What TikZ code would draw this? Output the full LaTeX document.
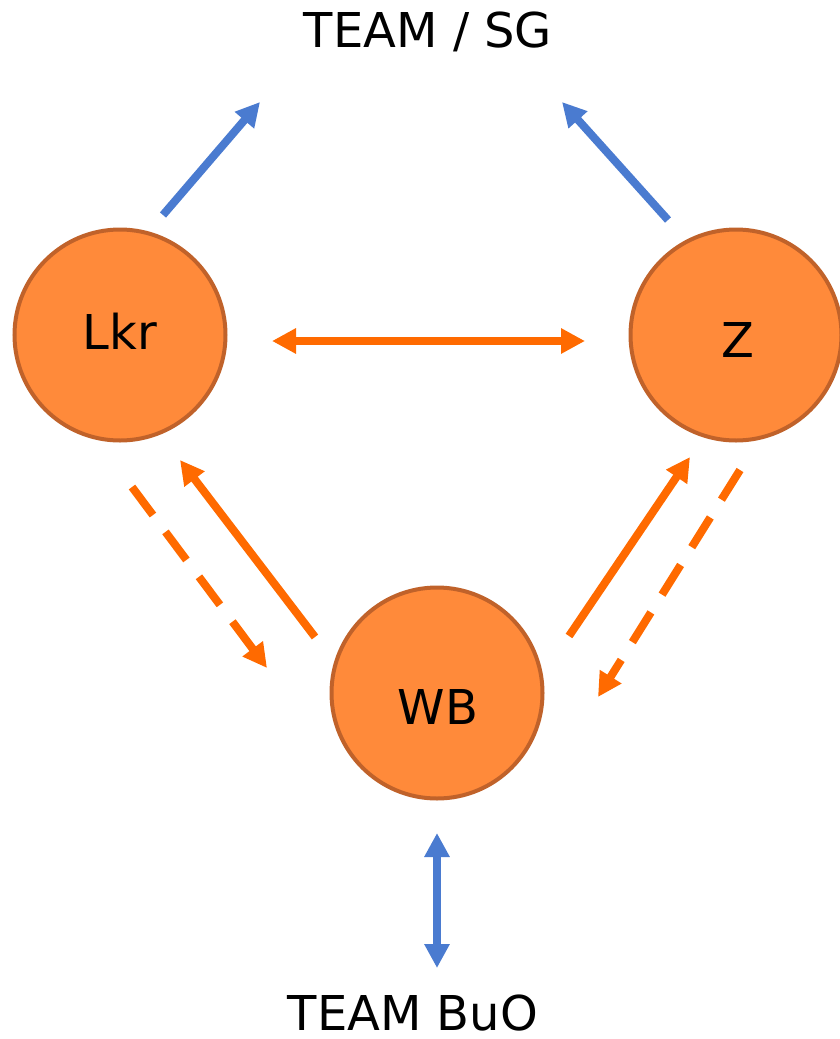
\documentclass[tikz,border=0pt]{standalone}
\usepackage{fontspec}
\setmainfont{DejaVu Sans}
\usetikzlibrary{arrows.meta}
\definecolor{circfill}{HTML}{FF8A3A}
\definecolor{circline}{HTML}{C0622A}
\definecolor{arrorange}{HTML}{FF6A00}
\definecolor{arrblue}{HTML}{4A7BD0}
\tikzset{
  person/.style={circle, draw=circline, fill=circfill, line width=4pt, minimum size=211pt, inner sep=0pt, font=\fontsize{48}{55}\selectfont},
  lbl/.style={inner sep=0pt, font=\fontsize{48}{55}\selectfont},
  bluearr/.style={draw=arrblue, line width=8pt, -{Triangle[length=24pt,width=24pt]}},
  orarr/.style={draw=arrorange, line width=8pt, -{Triangle[length=24pt,width=24pt]}},
  ordash/.style={orarr, dash pattern=on 35pt off 21pt},
}
\begin{document}
\begin{tikzpicture}[x=1pt,y=-1pt]
\useasboundingbox (0,0) rectangle (839,1039);
\node[person] (lkr) at (120,335) {};
\node[lbl] at (120,331) {Lkr};
\node[person] (z) at (736,335) {};
\node[lbl] at (738,340) {Z};
\node[person] (wb) at (437,693) {};
\node[lbl] at (438,707) {WB};
\node[lbl] (sg) at (428,32) {TEAM / SG};
\node[lbl] (buo) at (413,1013) {TEAM BuO};
% anchor coordinates
\coordinate (a1s) at (163,215); \coordinate (a1e) at (260,102);
\coordinate (a2s) at (668,220); \coordinate (a2e) at (562,102);
\coordinate (a3s) at (272,341); \coordinate (a3e) at (585,341);
\coordinate (a4s) at (315,637); \coordinate (a4e) at (180,460);
\coordinate (a5s) at (132,487); \coordinate (a5e) at (267,668);
\coordinate (a6s) at (569,636); \coordinate (a6e) at (690,457);
\coordinate (a7s) at (740,470); \coordinate (a7e) at (598,697);
\coordinate (a8s) at (437,833); \coordinate (a8e) at (437,968);
\draw[bluearr] (a1s) -- (a1e);
\draw[bluearr] (a2s) -- (a2e);
\draw[orarr,{Triangle[length=24pt,width=24pt]}-{Triangle[length=24pt,width=24pt]}] (a3s) -- (a3e);
\draw[orarr] (a4s) -- (a4e);
\draw[ordash] (a5s) -- (a5e);
\draw[orarr] (a6s) -- (a6e);
\draw[ordash] (a7s) -- (a7e);
\draw[bluearr,{Triangle[length=24pt,width=24pt]}-{Triangle[length=24pt,width=24pt]}] (a8s) -- (a8e);
\end{tikzpicture}
\end{document}
